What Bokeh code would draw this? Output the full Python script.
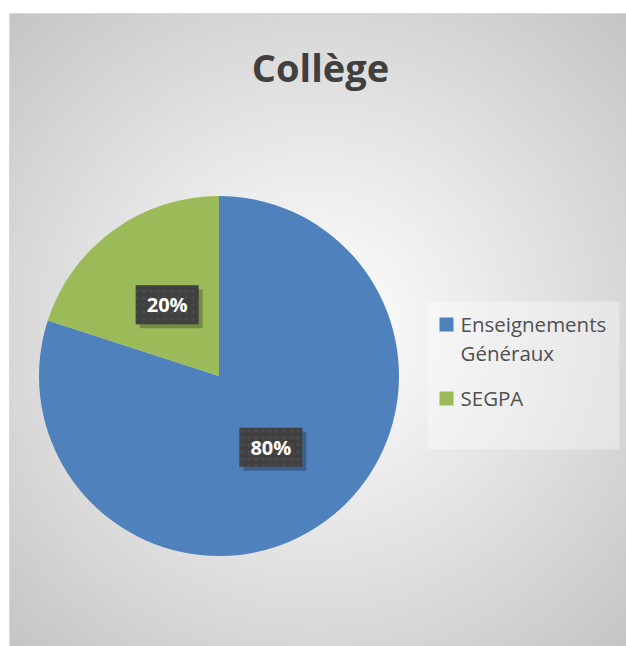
import numpy as np
from bokeh.plotting import figure
from bokeh.models import Range1d, ColumnDataSource
from bokeh.core.properties import value
from bokeh.embed import file_html
from bokeh.resources import INLINE

# ---- data ----
title_text = "Collège"
categories = ["Enseignements Généraux", "SEGPA"]
legend_lines = [["Enseignements", "Généraux"], ["SEGPA"]]
shares = [80, 20]
colors = ["#4F81BD", "#9BBB59"]

W, H = 626, 646
p = figure(width=W, height=H, x_range=Range1d(0, W), y_range=Range1d(0, H),
           output_backend="svg", toolbar_location=None, min_border=0,
           x_axis_type=None, y_axis_type=None)
p.grid.visible = False
p.outline_line_color = None
p.background_fill_color = "white"
p.border_fill_color = "white"

# ---- radial gradient background of chart area ----
gx0, gy0, gw, gh = 9, 0, 617, 633
xs = np.arange(gw) + 0.5 + gx0
ys = np.arange(gh) + 0.5 + gy0
X, Y = np.meshgrid(xs, ys)
gcx, gcy = 317, 646 - 330
d = np.hypot(X - gcx, Y - gcy) / np.hypot(gw / 2, gh / 2)
g = (255 - 58 * np.clip(d, 0, 1) ** 1.1).astype(np.uint32)
img = ((255 << 24) | (g << 16) | (g << 8) | g).astype(np.uint32)
p.image_rgba(image=[img], x=gx0, y=gy0, dw=gw, dh=gh)
p.quad(left=gx0, right=gx0 + gw, bottom=gy0, top=gy0 + gh, fill_color=None,
       line_color="#d9d9d9", line_width=1)

# ---- pie ----
cx, cy, R = 218.5, 270.5, 180
total = float(sum(shares))
starts, ends = [], []
a = np.pi / 2
for s in shares:
    starts.append(a)
    a -= s / total * 2 * np.pi
    ends.append(a)
src = ColumnDataSource(dict(start=starts, end=ends, color=colors, cat=categories))
p.wedge(x=cx, y=cy, radius=R, start_angle="start", end_angle="end",
        direction="clock", fill_color="color", line_color=None, source=src)

# ---- data labels ----
mids = [(s + e) / 2 for s, e in zip(starts, ends)]
lx = [cx + 0.49 * R * np.cos(m) for m in mids]
ly = [cy + 0.49 * R * np.sin(m) for m in mids]
labels = [f"{s}%" for s in shares]
lsrc = ColumnDataSource(dict(x=lx, y=ly, xs=[v + 4 for v in lx], ys=[v - 4 for v in ly], t=labels))
p.rect(x="xs", y="ys", width=63, height=39, fill_color="black", fill_alpha=0.25,
       line_color=None, source=lsrc)
p.rect(x="x", y="y", width=63, height=39, fill_color="#404040", line_color=None,
       hatch_pattern="dot", hatch_color="#4a4a4a", hatch_scale=7, hatch_weight=1.2,
       source=lsrc)
p.text(x="x", y="y", text="t", text_align="center", text_baseline="middle",
       text_font=value("Open Sans"), text_font_style="bold", text_font_size="20px",
       text_color="white", source=lsrc)

# ---- title ----
p.text(x=[320], y=[580], text=[title_text], text_align="center",
       text_baseline="alphabetic", text_font=value("Open Sans"),
       text_font_style="bold", text_font_size="38px", text_color="#404040")

# ---- legend ----
p.quad(left=[427], right=[619], bottom=[197], top=[345], fill_color="white",
       fill_alpha=0.35, line_color=None)
top_base, line_h, gap = 323, 29, 16
tx, ty, tt, sqy = [], [], [], []
n = 0
for i, lines in enumerate(legend_lines):
    first = top_base - n * line_h - i * gap
    sqy.append(first - 1)
    for k, ln in enumerate(lines):
        tx.append(460)
        ty.append(first - k * line_h)
        tt.append(ln)
    n += len(lines)
p.rect(x=[446] * len(colors), y=sqy, width=14, height=14, fill_color=colors,
       line_color=None)
p.text(x=tx, y=ty, text=tt, text_align="left", text_baseline="alphabetic",
       text_font=value("Open Sans"), text_font_size="20.5px", text_color="#505050")

open("out.html", "w").write(file_html(p, INLINE))
